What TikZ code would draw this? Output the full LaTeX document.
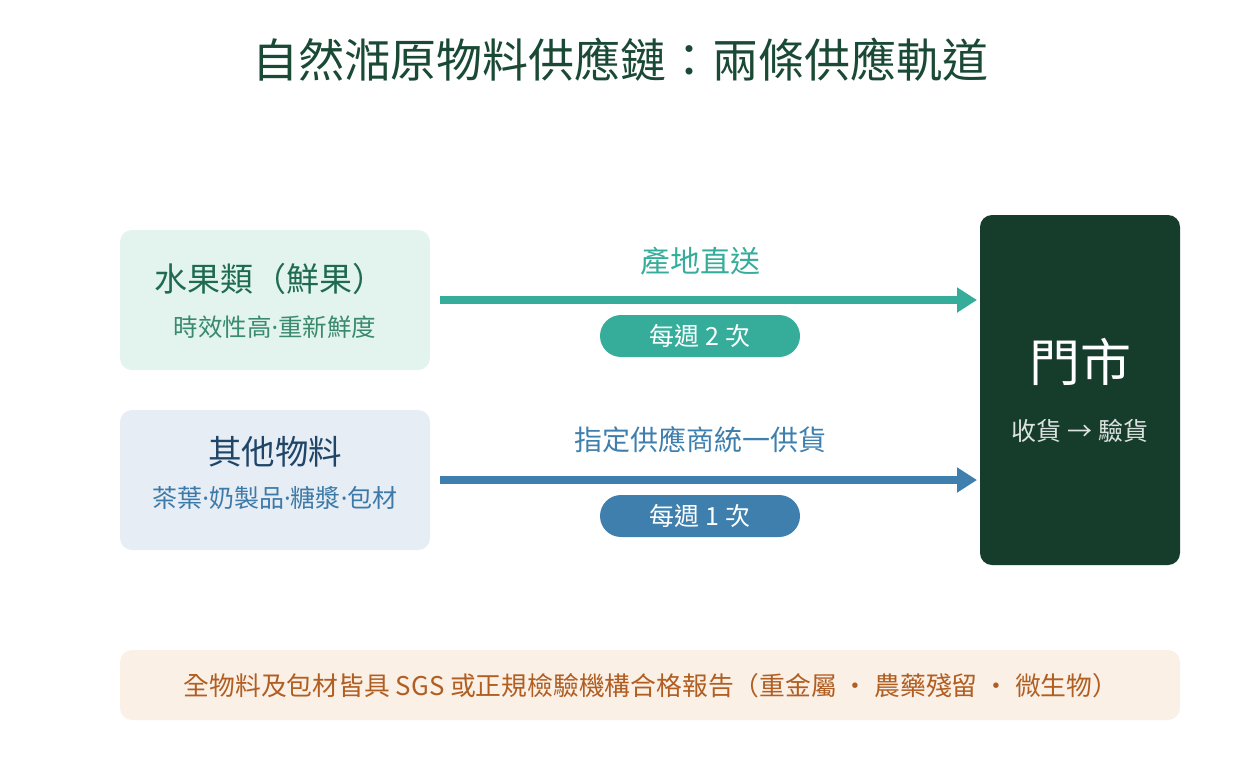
\documentclass[tikz,border=0pt]{standalone}
\usepackage{fontspec}
\setmainfont{Noto Sans CJK TC}
\newfontfamily\latf{Noto Sans}
\newcommand\mdot{{\latf ·}}
\usetikzlibrary{arrows.meta}
\definecolor{ttl}{HTML}{1A4A35}
\definecolor{fruitbg}{HTML}{E3F4EE}
\definecolor{fruitt}{HTML}{1F6B52}
\definecolor{fruits}{HTML}{3A8A6E}
\definecolor{teal}{HTML}{35AD9A}
\definecolor{otherbg}{HTML}{E6EDF4}
\definecolor{othert}{HTML}{1F4568}
\definecolor{others}{HTML}{3D7AA8}
\definecolor{blue}{HTML}{3F7FAE}
\definecolor{store}{HTML}{163D2C}
\definecolor{notebg}{HTML}{FBF0E6}
\definecolor{notet}{HTML}{B05E22}
\tikzset{
 box/.style={rounded corners=12pt,inner sep=0pt,draw=none},
 pill/.style={rounded corners=21pt,minimum width=200pt,minimum height=42pt,inner sep=0pt,text=white,font=\fontsize{25}{27}\selectfont},
 flow/.style={line width=8pt,-{Triangle[length=20pt,width=24pt]}},
}
\begin{document}
\begin{tikzpicture}[x=1pt,y=-1pt]
\useasboundingbox (0,0) rectangle (1240,780);
\node[text=ttl,font=\fontsize{46}{50}\selectfont] (title) at (620,60) {自然湉原物料供應鏈：兩條供應軌道};
\node[box,fill=fruitbg,minimum width=310pt,minimum height=140pt] (fruit) at (275,300) {};
\node[text=fruitt,font=\fontsize{33}{36}\selectfont] (ft) at (270,279) {水果類（鮮果）};
\node[text=fruits,font=\fontsize{24.5}{26}\selectfont] (fs) at (275,327) {時效性高\mdot 重新鮮度};
\node[box,fill=otherbg,minimum width=310pt,minimum height=140pt] (other) at (275,480) {};
\node[text=othert,font=\fontsize{33.5}{36}\selectfont] (ot) at (275,452) {其他物料};
\node[text=others,font=\fontsize{25}{27}\selectfont] (os) at (275,498) {茶葉\mdot 奶製品\mdot 糖漿\mdot 包材};
\node[box,fill=store,minimum width=200pt,minimum height=350pt] (store) at (1080,390) {};
\node[text=white,font=\fontsize{51}{54}\selectfont] (st) at (1080,362) {門市};
\node[text=white!85!store,font=\fontsize{25}{27}\selectfont] (ss) at (1080,431) {收貨 → 驗貨};
\coordinate (a1) at (440,300); \coordinate (b1) at (977,300);
\coordinate (a2) at (440,480); \coordinate (b2) at (977,480);
\draw[flow,teal] (a1) -- (b1);
\draw[flow,blue] (a2) -- (b2);
\node[text=teal,font=\fontsize{30}{32}\selectfont] (l1) at (700,261) {產地直送};
\node[text=blue,font=\fontsize{28}{30}\selectfont] (l2) at (700,440) {指定供應商統一供貨};
\node[pill,fill=teal] (p1) at (700,336) {每週 2 次};
\node[pill,fill=blue] (p2) at (700,516) {每週 1 次};
\node[box,fill=notebg,minimum width=1060pt,minimum height=70pt] (note) at (650,685) {};
\node[text=notet,font=\fontsize{25.8}{28}\selectfont] (nt) at (651,686) {全物料及包材皆具 SGS 或正規檢驗機構合格報告（重金屬 · 農藥殘留 · 微生物）};
\end{tikzpicture}
\end{document}
